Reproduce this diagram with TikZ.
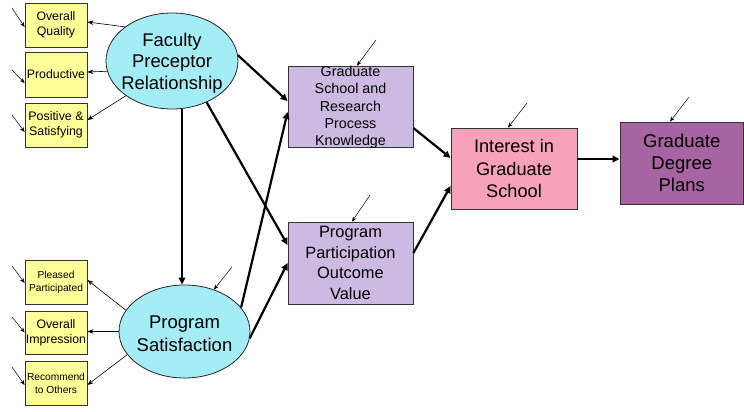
\documentclass[tikz,border=0pt]{standalone}
\usepackage{fontspec}
\setmainfont{Liberation Sans}
\usetikzlibrary{arrows.meta,shapes.geometric,calc}
\definecolor{ybox}{RGB}{255,255,153}
\definecolor{ecyan}{RGB}{164,236,246}
\definecolor{lav}{RGB}{204,186,227}
\definecolor{pinkb}{RGB}{247,162,186}
\definecolor{purp}{RGB}{168,100,162}
\begin{document}
\begin{tikzpicture}[x=1pt,y=-1pt,
  ind/.style={draw=black!80, fill=ybox, line width=0.8pt, minimum width=62pt, inner sep=0pt, align=center, font=\fontsize{12.3}{15}\selectfont},
  lat/.style={ellipse, draw=black!85, fill=ecyan, line width=0.8pt, inner sep=0pt},
  box/.style={draw=black!80, line width=0.8pt, inner sep=0pt, align=center},
  txt/.style={align=center, inner sep=0pt},
  thn/.style={-{Stealth[length=6pt,width=4.5pt]}, line width=0.6pt},
  err/.style={-{Stealth[length=5pt,width=4pt]}, line width=0.5pt},
  thk/.style={-{Triangle[length=7pt,width=6.5pt]}, line width=2.2pt}
]
\useasboundingbox (0,0) rectangle (744,412);

% indicators
\node[ind, minimum height=44pt] (oq) at (56,25) {Overall\\Quality};
\node[ind, minimum height=45pt] (prod) at (56,74.5) {Productive};
\node[ind, minimum height=44pt, font=\fontsize{12.4}{15.5}\selectfont] (pos) at (56,125) {Positive \&\\Satisfying};
\node[ind, minimum height=44pt, font=\fontsize{10.2}{13}\selectfont] (pl) at (56,282) {Pleased\\Participated};
\node[ind, minimum height=43pt] (oi) at (56,332.5) {Overall\\Impression};
\node[ind, minimum height=44pt, font=\fontsize{10.2}{13}\selectfont] (rec) at (56,383) {Recommend\\to Others};

% latent ellipses
\node[lat, minimum width=132pt, minimum height=96pt] (fpr) at (172,61) {};
\node[txt, font=\fontsize{18.4}{21.5}\selectfont] (fprt) at (172,63) {Faculty\\Preceptor\\Relationship};
\node[lat, minimum width=131pt, minimum height=93pt] (ps) at (184.5,331.5) {};
\node[txt, font=\fontsize{18.5}{23}\selectfont] (pst) at (184.5,334) {Program\\Satisfaction};

% boxes
\node[box, fill=lav, minimum width=125pt, minimum height=81pt] (gs) at (350.5,106.5) {};
\node[txt, font=\fontsize{14.3}{17.3}\selectfont] (gst) at (350.5,107.5) {Graduate\\School and\\Research\\Process\\Knowledge};
\node[box, fill=lav, minimum width=125pt, minimum height=82pt, font=\fontsize{16.4}{20.5}\selectfont] (pp) at (350.5,263) {Program\\Participation\\Outcome\\Value};
\node[box, fill=pinkb, minimum width=126pt, minimum height=81pt, font=\fontsize{18.2}{22.2}\selectfont] (int) at (514,168.5) {Interest in\\Graduate\\School};
\node[box, fill=purp, minimum width=123.5pt, minimum height=82pt, font=\fontsize{18.5}{22}\selectfont] (deg) at (681.75,163) {Graduate\\Degree\\Plans};

% loadings
\draw[thn] (fpr.144) -- ([yshift=3pt]oq.east);
\draw[thn] (fpr.189) -- ([yshift=2.5pt]prod.east);
\draw[thn] (fpr.217) -- ([yshift=5pt]pos.east);
\draw[thn] (ps.160) -- ([yshift=2pt]pl.east);
\draw[thn] (ps.west) -- (ps.west -| oi.east);
\draw[thn] (ps.202) -- ([yshift=-2pt]rec.east);

% structural paths
\draw[thk] ([xshift=10pt]fpr.south) -- ([xshift=-2.5pt]ps.north);
\draw[thk] (fpr.5) -- ([yshift=5.5pt]gs.west);
\draw[thk] (fpr.-50) -- ([yshift=18pt]pp.west);
\draw[thk] (ps.23) -- ([yshift=-5.5pt]gs.west);
\draw[thk] (ps.-6) -- (pp.west);
\draw[thk] ([yshift=-21.5pt]gs.east) -- ([yshift=10.5pt]int.west);
\draw[thk] ([yshift=10pt]pp.east) -- ([yshift=-17.5pt]int.west);
\draw[thk] ([yshift=9.5pt]int.east) -- ([yshift=4pt]deg.west);

% error terms
\coordinate (eoq) at (12,8);
\coordinate (eprod) at (12,70);
\coordinate (epos) at (12,115);
\coordinate (epl) at (12,266);
\coordinate (eoi) at (12,317);
\coordinate (erec) at (12,367);
\coordinate (egs) at (376,40);
\coordinate (epp) at (370,195);
\coordinate (eint) at (527,103);
\coordinate (edeg) at (689,97);
\coordinate (eps) at (232,267);
\draw[err] (eoq) -- ([yshift=-2pt]oq.west);
\draw[err] (eprod) -- ([yshift=-8.5pt]prod.west);
\draw[err] (epos) -- ([yshift=-7pt]pos.west);
\draw[err] (epl) -- ([yshift=-1pt]pl.west);
\draw[err] (eoi) -- (oi.west);
\draw[err] (erec) -- ([yshift=-2pt]rec.west);
\draw[err] (egs) -- ([xshift=6.5pt]gs.north);
\draw[err] (epp) -- ([xshift=1.5pt]pp.north);
\draw[err] (eint) -- ([xshift=-6pt]int.north);
\draw[err] (edeg) -- ([xshift=-11.75pt]deg.north);
\draw[err] (eps) -- (ps.55);
\end{tikzpicture}
\end{document}
